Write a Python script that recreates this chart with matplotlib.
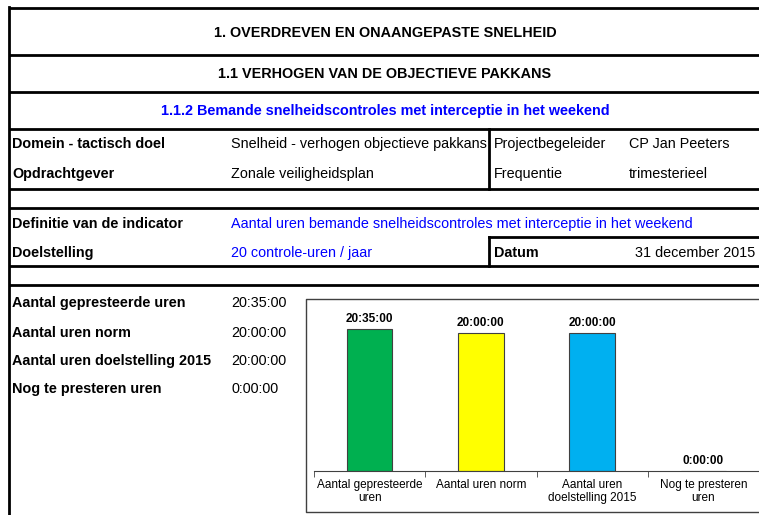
import matplotlib
matplotlib.use("Agg")
import matplotlib.pyplot as plt

# bar chart data (values in seconds)
categories = ["Aantal gepresteerde\nuren", "Aantal uren norm",
              "Aantal uren\ndoelstelling 2015", "Nog te presteren\nuren"]
seconds = [20 * 3600 + 35 * 60, 20 * 3600, 20 * 3600, 0]
bar_colors = ["#00b050", "#ffff00", "#00b0f0", "#ffffff"]

# sheet texts
title_1 = "1. OVERDREVEN EN ONAANGEPASTE SNELHEID"
title_2 = "1.1 VERHOGEN VAN DE OBJECTIEVE PAKKANS"
title_3 = "1.1.2 Bemande snelheidscontroles met interceptie in het weekend"
info_rows = [
    ("Domein - tactisch doel", "Snelheid - verhogen objectieve pakkans", "Projectbegeleider", "CP Jan Peeters"),
    ("Opdrachtgever", "Zonale veiligheidsplan", "Frequentie", "trimesterieel"),
]
definitie = ("Definitie van de indicator", "Aantal uren bemande snelheidscontroles met interceptie in het weekend")
doel = ("Doelstelling", "20 controle-uren / jaar")
datum = ("Datum", "31 december 2015")
summary_labels = ["Aantal gepresteerde uren", "Aantal uren norm",
                  "Aantal uren doelstelling 2015", "Nog te presteren uren"]


def fmt(sec):
    h = sec // 3600
    m = (sec % 3600) // 60
    s = sec % 60
    return "%d:%02d:%02d" % (h, m, s)


plt.rcParams["font.family"] = ["Liberation Sans", "DejaVu Sans"]
W, H = 759, 515
fig = plt.figure(figsize=(W / 100, H / 100), dpi=100)
bg = fig.add_axes([0, 0, 1, 1])
bg.set_xlim(0, W)
bg.set_ylim(H, 0)
bg.axis("off")

fs = 10.35
blue = "#0000ff"
lw = 2.0

# table lines
for y in [8, 55, 92, 129, 189, 208, 266, 285]:
    bg.plot([9, W], [y, y], color="black", lw=lw, solid_capstyle="butt")
bg.plot([9, 9], [7, H], color="black", lw=lw)
bg.plot([489, 489], [129, 189], color="black", lw=lw)
bg.plot([489, 489], [237, 266], color="black", lw=lw)
bg.plot([489, W], [237, 237], color="black", lw=lw)

# titles
bg.text(385, 37, title_1, ha="center", fontsize=fs, fontweight="bold")
bg.text(385, 78, title_2, ha="center", fontsize=fs, fontweight="bold")
bg.text(385, 115, title_3, ha="center", fontsize=fs, fontweight="bold", color=blue)

for (a, b, c, d), y in zip(info_rows, [148, 178]):
    bg.text(12, y, a, fontsize=fs, fontweight="bold")
    bg.text(231, y, b, fontsize=fs)
    bg.text(494, y, c, fontsize=fs)
    bg.text(629, y, d, fontsize=fs)

bg.text(12, 228, definitie[0], fontsize=fs, fontweight="bold")
bg.text(231, 228, definitie[1], fontsize=fs, color=blue)
bg.text(12, 257, doel[0], fontsize=fs, fontweight="bold")
bg.text(231, 257, doel[1], fontsize=fs, color=blue)
bg.text(494, 257, datum[0], fontsize=fs, fontweight="bold")
bg.text(755, 257, datum[1], fontsize=fs, ha="right")

for lab, sec, y in zip(summary_labels, seconds, [307, 337, 365, 393]):
    bg.text(12, y, lab, fontsize=fs, fontweight="bold")
    bg.text(231, y, fmt(sec), fontsize=fs)

# chart frame (runs off the right edge)
bg.plot([W, 306, 306, W], [299, 299, 512, 512], color="#404040", lw=1)

# bar chart
ax = fig.add_axes([314 / W, (H - 471) / H, 445 / W, 166 / H])
hours = [s / 3600 for s in seconds]
x = list(range(len(categories)))
bars = ax.bar(x, hours, width=0.41, color=bar_colors, edgecolor="#404040", lw=0.8)
for b, s in zip(bars, seconds):
    ax.annotate(fmt(s), (b.get_x() + b.get_width() / 2, b.get_height()),
                xytext=(0, 5), textcoords="offset points", ha="center", va="baseline",
                fontsize=8.5, fontweight="bold")
ax.set_xlim(-0.5, 3.5)
ax.set_ylim(0, 24)
ax.set_yticks([])
for side in ["top", "left", "right"]:
    ax.spines[side].set_visible(False)
ax.spines["bottom"].set_color("#404040")
ax.set_xticks(x)
ax.set_xticklabels(categories, fontsize=8.5, linespacing=1.1)
ax.tick_params(axis="x", which="major", length=0, pad=6)
ax.set_xticks([-0.5, 0.5, 1.5, 2.5], minor=True)
ax.tick_params(axis="x", which="minor", length=4, color="#404040")
ax.patch.set_alpha(0)

fig.savefig("out.png", dpi=100)
